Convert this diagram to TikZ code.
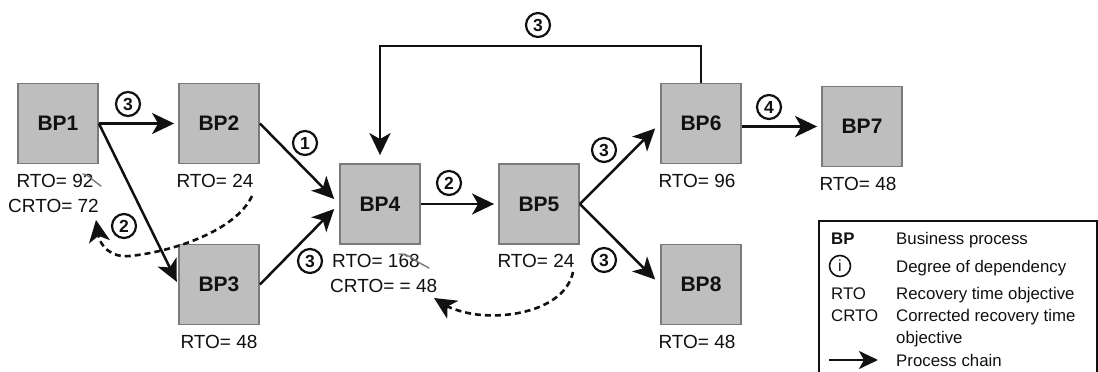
\documentclass[tikz,border=0pt]{standalone}
\usepackage{fontspec}
\setmainfont{Liberation Sans}
\usetikzlibrary{arrows.meta}
\definecolor{boxfill}{HTML}{BEBEBE}
\definecolor{boxborder}{HTML}{7A7A7A}
\definecolor{ink}{HTML}{111111}
\definecolor{scrib}{HTML}{7A7A7A}
\begin{document}
\begin{tikzpicture}[x=1pt,y=-1pt,
  bp/.style={draw=boxborder, fill=boxfill, line width=1.8pt, minimum width=80pt, minimum height=80pt, inner sep=0pt, text=ink, font=\fontsize{21}{24}\selectfont\bfseries},
  lbl/.style={inner sep=0pt, text=ink, font=\fontsize{19}{22}\selectfont},
  num/.style={circle, draw=ink, line width=2.2pt, minimum size=24pt, inner sep=0pt, text=ink, font=\fontsize{17.5}{17.5}\selectfont\bfseries},
  chain/.style={draw=ink, line width=2.5pt, -{Stealth[length=22pt,width=21pt,inset=6pt]}},
  dep/.style={draw=ink, line width=2.6pt, dash pattern=on 6pt off 4pt, -{Stealth[length=22pt,width=21pt,inset=6pt]}},
  leg/.style={inner sep=0pt, anchor=base west, text=ink, font=\fontsize{16.8}{20}\selectfont},
  scribble/.style={draw=scrib, line width=1.4pt, line cap=round, line join=round}
]
\useasboundingbox (0,0) rectangle (1098,372);
\fill[white] (0,0) rectangle (1098,372);

% business processes
\node[bp] (bp1) at (58,123.5) {BP1};
\node[bp] (bp2) at (219,123.5) {BP2};
\node[bp] (bp3) at (219,284.5) {BP3};
\node[bp] (bp4) at (380,204) {BP4};
\node[bp] (bp5) at (539,204) {BP5};
\node[bp] (bp6) at (701,123.5) {BP6};
\node[bp] (bp7) at (862,126.5) {BP7};
\node[bp] (bp8) at (701,284.5) {BP8};

% RTO labels
\node[lbl] (rto1) at (55,180.5) {RTO= 92};
\node[lbl] (crto1) at (53.5,205.5) {CRTO= 72};
\node[lbl] (rto2) at (215,180.5) {RTO= 24};
\node[lbl] (rto3) at (219,342) {RTO= 48};
\node[lbl, anchor=west] (rto4) at (332,261) {RTO= 168};
\node[lbl, anchor=west] (crto4) at (330,286) {CRTO= = 48};
\node[lbl] (rto5) at (536,261) {RTO= 24};
\node[lbl] (rto6) at (697,180.5) {RTO= 96};
\node[lbl] (rto7) at (858,184) {RTO= 48};
\node[lbl] (rto8) at (697,342) {RTO= 48};

% scribbles over corrected values
\draw[scribble] (83,174) .. controls (88,175) and (91,178) .. (93,180) -- (101,186);
\draw[scribble] (399,254) .. controls (408,254) and (412,258) .. (416,261) -- (429,268);

% process chains
\draw[chain, shorten >=4pt] (bp1.east) -- (bp2.west);
\draw[chain, shorten >=3pt] (bp1.east) -- (bp3.west);
\draw[chain, shorten >=7pt] (bp2.east) -- (bp4.west);
\draw[chain, shorten >=7pt] (bp3.east) -- (bp4.west);
\draw[chain, shorten >=4pt] (bp4.east) -- (bp5.west);
\draw[chain, shorten >=7pt] (bp5.east) -- (bp6.west);
\draw[chain, shorten >=7pt] (bp5.east) -- (bp8.west);
\draw[chain, shorten >=4pt] (bp6.east |- bp7.west) -- (bp7.west);
\coordinate (loop) at (540,46);
\draw[chain, shorten >=8pt] (bp6.north) |- (loop) -| (bp4.north);

% degrees of dependency
\node[num] (n12) at (128,104) {3};
\node[num] (n24) at (305,143) {1};
\node[num] (n34) at (310,261) {3};
\node[num] (n45) at (449,183) {2};
\node[num] (n64) at (538,25) {3};
\node[num] (n56) at (604,150) {3};
\node[num] (n58) at (604,260) {3};
\node[num] (n67) at (769,107) {4};
\node[num] (nd1) at (124,226) {2};

% corrected RTO feedback (dashed)
\coordinate (d1s) at (252,196);
\coordinate (d1e) at (96,220);
\draw[dep] (d1s) .. controls (235,232) and (170,252) .. (130,256) .. controls (110,258) and (100,245) .. (d1e);
\coordinate (d2s) at (573,272);
\coordinate (d2e) at (434,298);
\draw[dep] (d2s) .. controls (566,305) and (520,318) .. (482,315) .. controls (466,314) and (450,308) .. (d2e);

% legend
\begin{scope}
\clip (0,0) rectangle (1098,372);
\draw[draw=ink, line width=2.4pt] (819,221) rectangle (1097,400);
\end{scope}
\node[leg, font=\fontsize{16.8}{20}\selectfont\bfseries] (lbp) at (831,244) {BP};
\node[leg] (lbpt) at (896,244) {Business process};
\node[circle, draw=ink, line width=1.6pt, minimum size=21pt, inner sep=0pt, text=ink, font=\fontsize{16}{16}\selectfont] (li) at (840,266) {i};
\node[leg] (lit) at (896,272) {Degree of dependency};
\node[leg] (lrto) at (831,299) {RTO};
\node[leg] (lrtot) at (896,299) {Recovery time objective};
\node[leg] (lcrto) at (831,321) {CRTO};
\node[leg] (lcrtot) at (896,321) {Corrected recovery time};
\node[leg] (lcrtot2) at (896,343) {objective};
\coordinate (la1) at (829,360);
\coordinate (la2) at (878,360);
\draw[draw=ink, line width=2.4pt, -{Stealth[length=19pt,width=18pt,inset=5pt]}] (la1) -- (la2);
\node[leg] (lpc) at (896,366) {Process chain};
\end{tikzpicture}
\end{document}
